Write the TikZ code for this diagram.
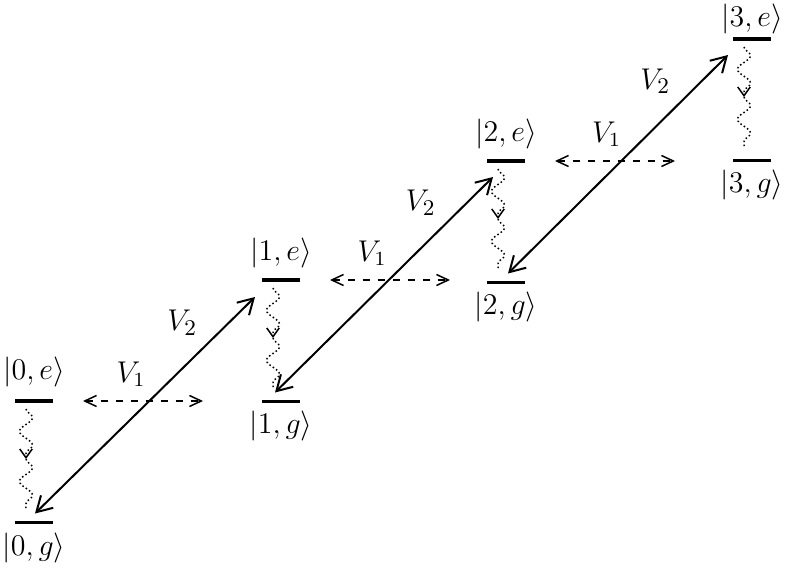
\documentclass[tikz,border=0pt]{standalone}
\usetikzlibrary{positioning}
\usetikzlibrary{arrows.meta,decorations.pathmorphing}

\begin{document}
\begin{tikzpicture}[x=0.4pt,y=-0.4pt,
    every node/.style={font=\fontsize{11.5pt}{13pt}\selectfont},
    level/.style={rectangle,fill=black,minimum width=15.2pt,minimum height=1.5pt,inner sep=0pt},
    couple/.style={thick,{Straight Barb[length=6pt,width=7pt]}-{Straight Barb[length=6pt,width=7pt]}},
    drive/.style={semithick,dashed,{Straight Barb[length=4.7pt,width=4.4pt]}-{Straight Barb[length=4.7pt,width=4.4pt]}},
    decay/.style={semithick,densely dotted,decorate,decoration={snake,amplitude=2.6pt,segment length=11pt}},
    decaytip/.style={-{Straight Barb[length=3.5pt,width=5pt]}}]

    \useasboundingbox (0,0) rectangle (789,573);

    % 1. Niveaus
    \node[level] (e0) at (34,401) {};
    \node[level] (g0) [below=48.6pt of e0.center,anchor=center] {};
    \node[level] (e1) at (281,280) {};
    \node[level] (g1) [below=48.6pt of e1.center,anchor=center] {};
    \node[level] (e2) at (506,161) {};
    \node[level] (g2) [below=48.6pt of e2.center,anchor=center] {};
    \node[level] (e3) at (752,39) {};
    \node[level] (g3) [below=48.6pt of e3.center,anchor=center] {};

    % 2. Zustaende
    \node (ke0) [above=1pt of e0] {$|0,e\rangle$};
    \node (kg0) [below=-0.3pt of g0] {$|0,g\rangle$};
    \node (ke1) [above=0.5pt of e1] {$|1,e\rangle$};
    \node (kg1) [below=-0.5pt of g1] {$|1,g\rangle$};
    \node (ke2) [above=0.5pt of e2] {$|2,e\rangle$};
    \node (kg2) [below=-0.5pt of g2] {$|2,g\rangle$};
    \node (ke3) [above=-0.3pt of e3,inner sep=1pt] {$|3,e\rangle$};
    \node (kg3) [below=-0.5pt of g3] {$|3,g\rangle$};

    % 3. Zerfall
    \coordinate (m0) at ([shift={(-8,58)}]e0.center);
    \coordinate (m1) at ([shift={(-8,58)}]e1.center);
    \coordinate (m2) at ([shift={(-8,58)}]e2.center);
    \coordinate (m3) at ([shift={(-8,58)}]e3.center);
    \draw[decay,decaytip] ([shift={(-8,8)}]e0.center) -- (m0);
    \draw[decay] (m0) -- ([shift={(-8,-12)}]g0.center);
    \draw[decay,decaytip] ([shift={(-8,8)}]e1.center) -- (m1);
    \draw[decay] (m1) -- ([shift={(-8,-12)}]g1.center);
    \draw[decay,decaytip] ([shift={(-8,8)}]e2.center) -- (m2);
    \draw[decay] (m2) -- ([shift={(-8,-12)}]g2.center);
    \draw[decay,decaytip] ([shift={(-8,8)}]e3.center) -- (m3);
    \draw[decay] (m3) -- ([shift={(-8,-12)}]g3.center);

    % 4. Kopplungen
    \draw[drive] ([xshift=19.6pt]e0.center) -- node[above=2pt,pos=0.4] {$V_1$} ([xshift=67.6pt]e0.center);
    \draw[drive] ([xshift=19.6pt]e1.center) -- node[above=2pt,pos=0.35] {$V_1$} ([xshift=67.6pt]e1.center);
    \draw[drive] ([xshift=19.6pt]e2.center) -- node[above=2pt,pos=0.43] {$V_1$} ([xshift=67.6pt]e2.center);

    \draw[couple] ([shift={(1,-9)}]g0.center) -- node[above left,pos=0.78,font=\fontsize{13pt}{15pt}\selectfont] {$V_2$} ([shift={(-26,17)}]e1.center);
    \draw[couple] ([shift={(-6,-9)}]g1.center) -- node[above left,pos=0.78,font=\fontsize{13pt}{15pt}\selectfont] {$V_2$} ([shift={(-13,16)}]e2.center);
    \draw[couple] ([shift={(2,-9)}]g2.center) -- node[above left,pos=0.78,font=\fontsize{13pt}{15pt}\selectfont] {$V_2$} ([shift={(-24,16)}]e3.center);

\end{tikzpicture}
\end{document}
